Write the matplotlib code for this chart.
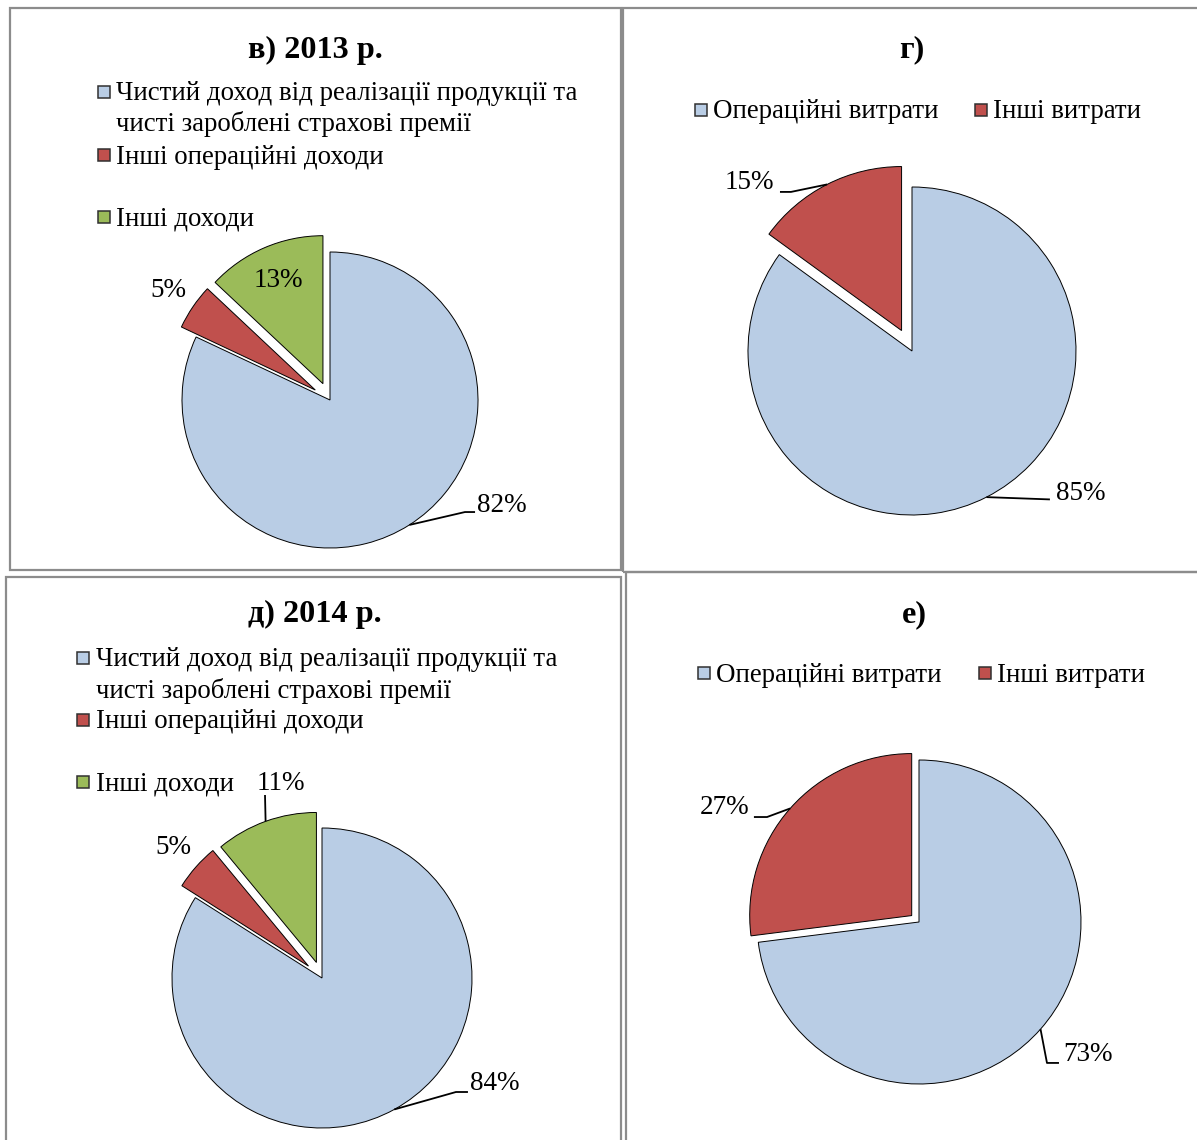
import numpy as np
import matplotlib
matplotlib.use("Agg")
import matplotlib.pyplot as plt
from matplotlib.patches import Rectangle

# ---------------- data ----------------
income_categories = ["Чистий доход від реалізації продукції та чисті зароблені страхові премії",
                     "Інші операційні доходи",
                     "Інші доходи"]
income_2013 = [82, 5, 13]
income_2014 = [84, 5, 11]
expense_categories = ["Операційні витрати", "Інші витрати"]
expense_g = [85, 15]
expense_e = [73, 27]
titles = ["в) 2013 р.", "г)", "д) 2014 р.", "е)"]

colors3 = ["#B9CDE5", "#C0504D", "#9BBB59"]
colors2 = ["#B9CDE5", "#C0504D"]

W, H = 1197, 1140
LEG_FS = 19.4
LBL_FS = 19.5
TTL_FS = 23.2
plt.rcParams['font.family'] = ['Liberation Serif', 'DejaVu Serif']
fig = plt.figure(figsize=(W / 100, H / 100), dpi=100)


def fx(x):
    return x / W


def fy(y):
    return 1 - y / H


# panel borders
for (x0, y0, x1, y1) in [(10, 8, 621, 570), (623, 8, 1205, 572),
                         (6, 577, 621, 1150), (626, 572, 1205, 1150)]:
    fig.patches.append(Rectangle((fx(x0), fy(y1)), fx(x1 - x0), (y1 - y0) / H,
                                 transform=fig.transFigure, fill=False,
                                 edgecolor="#8C8C8C", lw=1.6, zorder=0))


def draw_pie(cx, cy, R, values, colors, explode, labels_cfg):
    ax = fig.add_axes([fx(cx - 1.5 * R), fy(cy + 1.5 * R), 3 * R / W, 3 * R / H])
    wedges, _ = ax.pie(values, colors=colors, explode=explode, startangle=90,
                       counterclock=False, radius=1,
                       wedgeprops=dict(edgecolor="black", linewidth=0.7))
    ax.set_xlim(-1.5, 1.5)
    ax.set_ylim(-1.5, 1.5)
    ax.set_aspect('equal')
    ax.axis('off')
    total = float(sum(values))
    start = 0.0
    for i, v in enumerate(values):
        mid = (start + v / 2) / total * 360.0   # clockwise from top
        start += v
        th = np.deg2rad(90 - mid)
        d = np.array([np.cos(th), np.sin(th)])
        cfg = labels_cfg[i]
        txt = f"{v}%"
        if cfg.get("polar") is not None:
            p = d * cfg["polar"]
            ax.text(p[0], p[1], txt, ha="center", va="center", fontsize=LBL_FS)
            continue
        tx, ty, ha = cfg["text"]
        ax.text(tx, ty, txt, ha=ha, va="center", fontsize=LBL_FS)
        edge = d * (1 + explode[i])
        pts = [edge] + [np.array(p) for p in cfg["leader"]]
        pts = np.array(pts)
        ax.plot(pts[:, 0], pts[:, 1], color="black", lw=1.3, solid_capstyle="butt")
    return ax


def draw_legend_rows(rows, colors, fs=LEG_FS):
    # rows: list of (square_x or None, text_x, y, text, color_index)
    for sx, tx, y, text, ci in rows:
        if sx is not None:
            s = 12
            fig.patches.append(Rectangle((fx(sx - s / 2), fy(y + s / 2)), s / W, s / H,
                                         transform=fig.transFigure,
                                         facecolor=colors[ci], edgecolor="#303030",
                                         lw=1.1))
        fig.text(fx(tx), fy(y + 2), text, ha="left", va="center", fontsize=fs)


# ---------- titles ----------
for t, (x, y) in zip(titles, [(315, 50), (912, 50), (315, 614), (914, 615)]):
    fig.text(fx(x), fy(y), t, ha="center", va="center", fontsize=TTL_FS, fontweight="bold")

# ---------- panel в ----------
first = income_categories[0]
cut = first.index("та") + 2
draw_legend_rows([(104, 116, 92, first[:cut], 0),
                  (None, 116, 122, first[cut + 1:], 0),
                  (104, 116, 155, income_categories[1], 1),
                  (104, 116, 217, income_categories[2], 2)], colors3)
draw_pie(330, 400, 148, income_2013, colors3, [0, 0.12, 0.12],
         [dict(text=(0.99, -0.71, "left"), leader=[(0.912, -0.757), (0.98, -0.757)]),
          dict(polar=1.32),
          dict(polar=0.88)])

# ---------- panel г ----------
draw_legend_rows([(701, 713, 110, expense_categories[0], 0),
                  (981, 993, 110, expense_categories[1], 1)], colors2)
draw_pie(912, 351, 164, expense_g, colors2, [0, 0.14],
         [dict(text=(0.878, -0.866, "left"), leader=[(0.841, -0.905)]),
          dict(text=(-0.841, 1.03, "right"), leader=[(-0.738, 0.97), (-0.805, 0.97)])])

# ---------- panel д ----------
draw_legend_rows([(83, 96, 658, first[:cut], 0),
                  (None, 96, 689, first[cut + 1:], 0),
                  (83, 96, 720, income_categories[1], 1),
                  (83, 96, 782, income_categories[2], 2)], colors3)
draw_pie(322, 978, 150, income_2014, colors3, [0, 0.12, 0.11],
         [dict(text=(0.987, -0.70, "left"), leader=[(0.893, -0.76), (0.973, -0.76)]),
          dict(polar=1.32),
          dict(text=(-0.273, 1.30, "center"), leader=[(-0.38, 1.22)])])

# ---------- panel е ----------
draw_legend_rows([(704, 716, 673, expense_categories[0], 0),
                  (985, 997, 673, expense_categories[1], 1)], colors2)
draw_pie(919, 922, 162, expense_e, colors2, [0, 0.06],
         [dict(text=(0.889, -0.815, "left"), leader=[(0.790, -0.870), (0.864, -0.870)]),
          dict(text=(-1.049, 0.704, "right"), leader=[(-0.938, 0.648), (-1.019, 0.648)])])

fig.savefig("out.png", dpi=100)
